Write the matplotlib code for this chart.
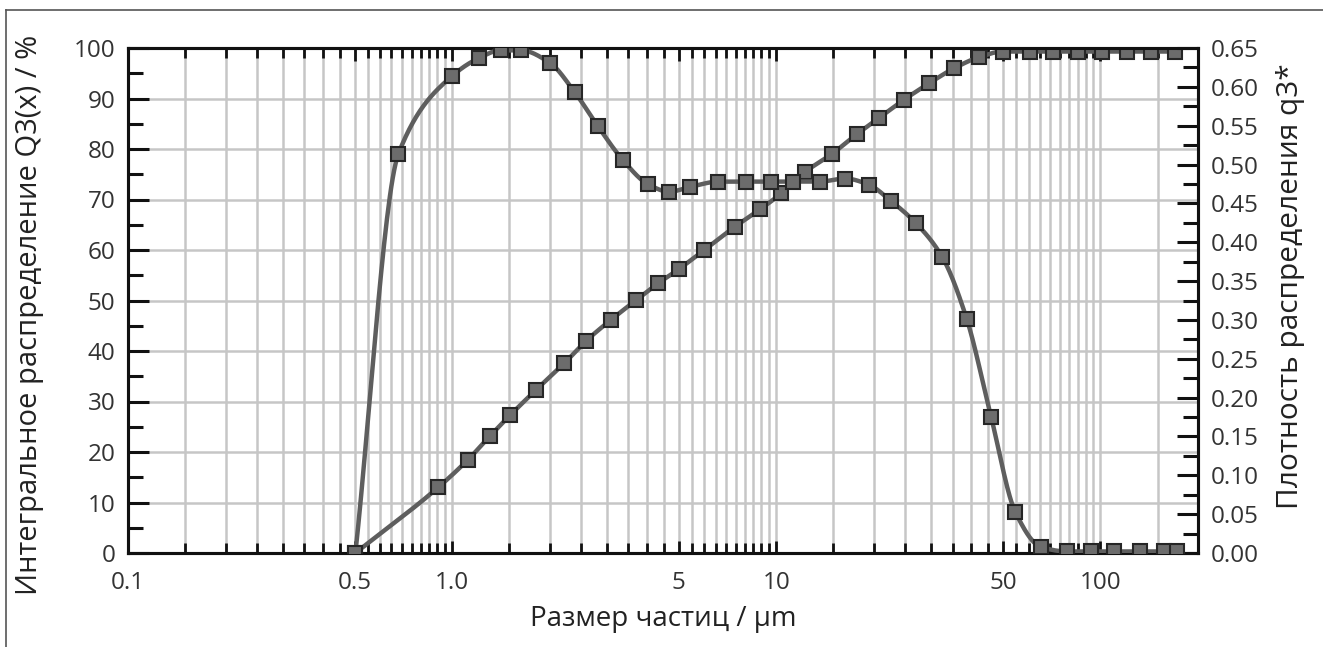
import numpy as np
import matplotlib
matplotlib.use("Agg")
import matplotlib.pyplot as plt
from matplotlib.ticker import FixedLocator, LogLocator, MultipleLocator, NullFormatter, FixedFormatter

plt.rcParams['font.family'] = ['Open Sans', 'DejaVu Sans']

# ---- data ----
# cumulative distribution Q3(x), %
q3_cum_x = [0.503, 0.906, 1.116, 1.31, 1.51, 1.815, 2.22, 2.59, 3.08, 3.70, 4.32, 5.00,
            6.0, 7.45, 8.93, 10.36, 12.3, 14.9, 17.7, 20.7, 24.7, 29.6, 35.4, 42.3,
            50.0, 60.5, 71.5, 85.0, 101.4, 120.9, 143.2, 169.8]
q3_cum_y = [0.0, 13.0, 18.4, 23.2, 27.3, 32.3, 37.6, 42.0, 46.1, 50.1, 53.4, 56.2,
            60.0, 64.6, 68.1, 71.2, 75.5, 79.1, 82.9, 86.1, 89.7, 93.0, 96.0, 98.2,
            99.3, 99.3, 99.3, 99.3, 99.3, 99.3, 99.3, 99.3]

# density distribution q3*
q3_den_x = [0.503, 0.683, 1.0, 1.21, 1.41, 1.63, 2.00, 2.39, 2.82, 3.36, 4.01, 4.67,
            5.41, 6.63, 8.09, 9.64, 11.3, 13.6, 16.3, 19.3, 22.6, 26.9, 32.5, 38.7,
            46.0, 54.6, 65.4, 78.7, 93.2, 110.3, 132.7, 157.0, 171.8]
q3_den_y = [0.0, 0.514, 0.614, 0.637, 0.647, 0.647, 0.631, 0.593, 0.549, 0.506, 0.475, 0.465,
            0.471, 0.478, 0.478, 0.478, 0.478, 0.478, 0.482, 0.474, 0.453, 0.425, 0.381, 0.301,
            0.175, 0.053, 0.008, 0.002, 0.002, 0.002, 0.002, 0.002, 0.002]

x_tick_vals = [0.1, 0.5, 1.0, 5, 10, 50, 100]
x_tick_labels = ['0.1', '0.5', '1.0', '5', '10', '50', '100']
left_ticks = list(range(0, 101, 10))
right_ticks = [0.00, 0.05, 0.10, 0.15, 0.20, 0.25, 0.30, 0.35, 0.40, 0.45, 0.50, 0.55, 0.60, 0.65]

xlabel = 'Размер частиц / µm'
ylabel_left = 'Интегральное распределение Q3(x) / %'
ylabel_right = 'Плотность распределения q3*'


def pchip(x, y):
    """Smooth monotone cubic curve through the data (in log-x), used only to draw the line."""
    lx = np.log10(np.asarray(x, float))
    y = np.asarray(y, float)
    h = np.diff(lx)
    d = np.diff(y) / h
    m = np.zeros_like(y)
    for k in range(1, len(y) - 1):
        if d[k - 1] * d[k] > 0:
            w1 = 2 * h[k] + h[k - 1]
            w2 = h[k] + 2 * h[k - 1]
            m[k] = (w1 + w2) / (w1 / d[k - 1] + w2 / d[k])
    m[0] = d[0]
    m[-1] = d[-1]
    xs, ys = [], []
    for k in range(len(h)):
        t = np.linspace(0, 1, 30, endpoint=(k == len(h) - 1))
        h00 = 2 * t**3 - 3 * t**2 + 1
        h10 = t**3 - 2 * t**2 + t
        h01 = -2 * t**3 + 3 * t**2
        h11 = t**3 - t**2
        xs.append(lx[k] + t * h[k])
        ys.append(h00 * y[k] + h10 * h[k] * m[k] + h01 * y[k + 1] + h11 * h[k] * m[k + 1])
    return 10 ** np.concatenate(xs), np.concatenate(ys)


W, H = 1323, 647
fig = plt.figure(figsize=(W / 100, H / 100), dpi=100)
ax = fig.add_axes([128 / W, 1 - 553 / H, (1198 - 128) / W, (553 - 48) / H])
ax.set_xscale('log')
ax2 = ax.twinx()

line_col = '#5e5e5e'
face_col = '#6c6c6c'
edge_col = '#262626'
grid_col = '#c6c6c6'
tick_fs = 17.5

ax.set_xlim(0.1, 200)
ax.set_ylim(0, 100)

ax.xaxis.set_major_locator(FixedLocator(x_tick_vals))
ax.xaxis.set_major_formatter(FixedFormatter(x_tick_labels))
ax.xaxis.set_minor_locator(LogLocator(base=10, subs=np.arange(1.0, 10.0, 0.5), numticks=50))
ax.xaxis.set_minor_formatter(NullFormatter())
ax.yaxis.set_major_locator(FixedLocator(left_ticks))
ax.yaxis.set_minor_locator(MultipleLocator(5))

ax.grid(True, which='both', axis='x', color=grid_col, lw=1.8)
ax.grid(True, which='major', axis='y', color=grid_col, lw=1.8)
ax.set_axisbelow(True)

for s in ax.spines.values():
    s.set_linewidth(2.2)
    s.set_color('#111111')

ax.tick_params(axis='y', which='major', direction='in', length=15, width=2.2, labelsize=tick_fs,
               pad=9, colors='#111111', labelcolor='#333333')
ax.tick_params(axis='y', which='minor', direction='in', length=11, width=2.2, colors='#111111')
ax.tick_params(axis='x', which='major', direction='in', length=9, width=2.0, labelsize=tick_fs,
               pad=13, top=True, colors='#111111', labelcolor='#333333')
ax.tick_params(axis='x', which='minor', direction='in', length=7, width=2.0, top=True,
               colors='#111111')

# cumulative curve
sx, sy = pchip(q3_cum_x, q3_cum_y)
ax.plot(sx, sy, color=line_col, lw=3.2, zorder=3, solid_capstyle='round')
ax.plot(q3_cum_x, q3_cum_y, ls='none', marker='s', ms=10.5, mfc=face_col, mec=edge_col,
        mew=1.5, zorder=4)

ax.set_xlabel(xlabel, fontsize=20, color='#222222')
ax.xaxis.set_label_coords(0.5, -0.13)
ax.xaxis.label.set_va('center')
ax.set_ylabel(ylabel_left, fontsize=21, color='#222222')
ax.yaxis.set_label_coords(-0.0916, 0.471)
ax.yaxis.label.set_va('center')

# density curve on right axis
ax2.set_ylim(0, 0.65)
ax2.yaxis.set_major_locator(FixedLocator(right_ticks))
ax2.yaxis.set_major_formatter(FixedFormatter(['%.2f' % v for v in right_ticks]))
ax2.yaxis.set_minor_locator(MultipleLocator(0.025))
for s in ax2.spines.values():
    s.set_linewidth(2.2)
    s.set_color('#111111')
ax2.tick_params(axis='y', which='major', direction='in', length=15, width=2.2, labelsize=tick_fs,
                pad=9, colors='#111111', labelcolor='#333333')
ax2.tick_params(axis='y', which='minor', direction='in', length=11, width=2.2, colors='#111111')

dx, dy = pchip(q3_den_x, q3_den_y)
ax2.plot(dx, dy, color=line_col, lw=3.2, zorder=3, solid_capstyle='round')
ax2.plot(q3_den_x, q3_den_y, ls='none', marker='s', ms=10.5, mfc=face_col, mec=edge_col,
         mew=1.5, zorder=4)
ax2.set_ylabel(ylabel_right, fontsize=21.5, color='#222222')
ax2.yaxis.set_label_coords(1.086, 0.529)
ax2.yaxis.label.set_va('center')

# thin frame at left and top of the figure
fig.add_artist(plt.Line2D([6 / W, 6 / W], [0, 1 - 10 / H], color='#555555', lw=1.2,
                          transform=fig.transFigure))
fig.add_artist(plt.Line2D([6 / W, 1], [1 - 10 / H, 1 - 10 / H], color='#555555', lw=1.2,
                          transform=fig.transFigure))

fig.savefig('out.png', dpi=100)
